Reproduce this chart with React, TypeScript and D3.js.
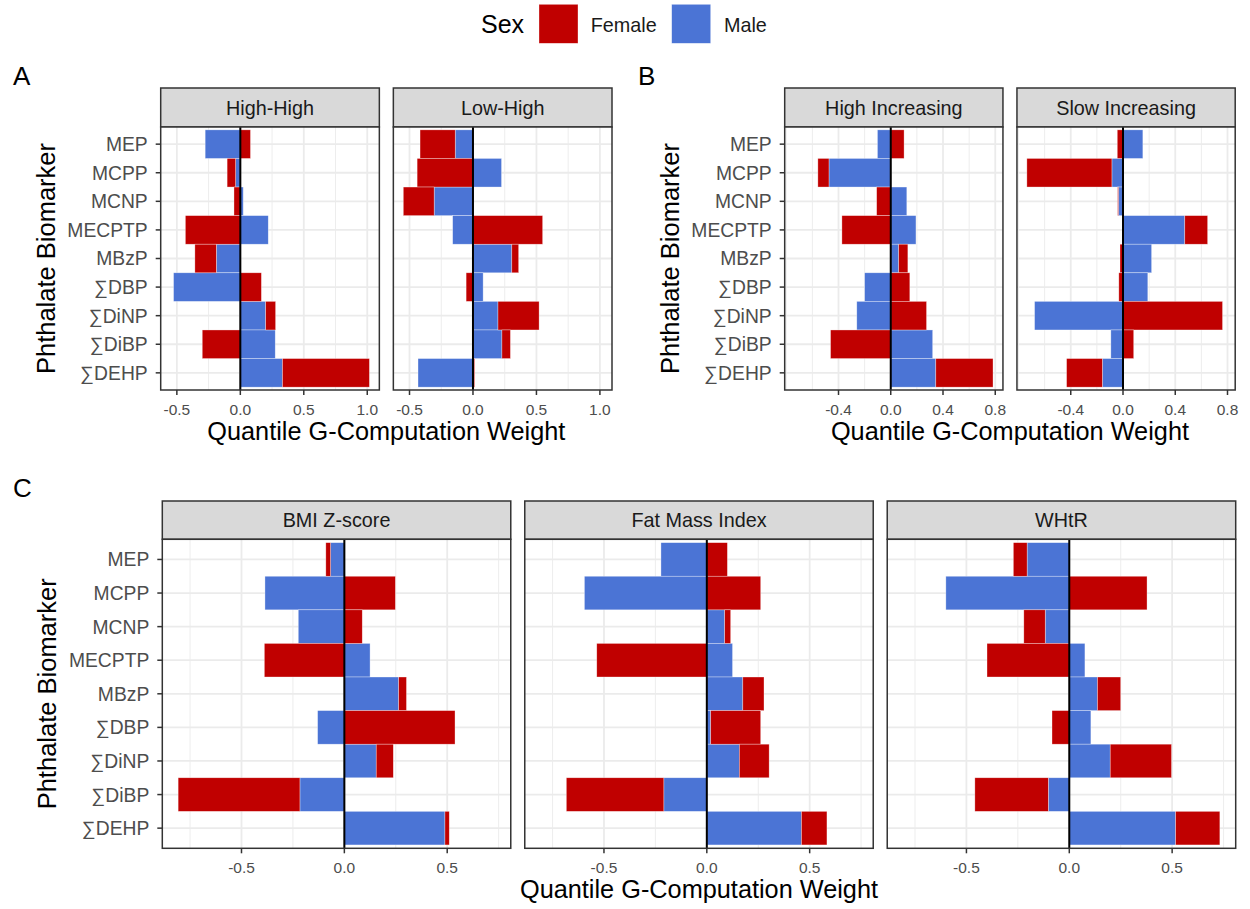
import React from "react";
import * as d3 from "d3";

// Biomarkers, top to bottom
const biomarkers = ["MEP", "MCPP", "MCNP", "MECPTP", "MBzP", "∑DBP", "∑DiNP", "∑DiBP", "∑DEHP"];
const sexes = ["Female", "Male"];
const sexColors = ["#C00000", "#4B74D5"];

// A: BMI trajectory groups
const highHighFemale = [0.08, -0.067, -0.05, -0.433, -0.169, 0.166, 0.078, -0.3, 0.685];
const highHighMale = [-0.277, -0.037, 0.023, 0.22, -0.189, -0.526, 0.2, 0.275, 0.332];
const lowHighFemale = [-0.277, -0.44, -0.243, 0.549, 0.054, -0.054, 0.324, 0.067, 0.013];
const lowHighMale = [-0.14, 0.225, -0.306, -0.16, 0.306, 0.08, 0.197, 0.228, -0.433];

// B: growth trajectory groups
const highIncFemale = [0.102, -0.085, -0.108, -0.374, 0.07, 0.146, 0.274, -0.461, 0.438];
const highIncMale = [-0.102, -0.473, 0.123, 0.193, 0.061, -0.2, -0.26, 0.321, 0.345];
const slowIncFemale = [-0.044, -0.651, -0.006, 0.175, -0.023, -0.032, 0.762, 0.082, -0.274];
const slowIncMale = [0.152, -0.085, -0.035, 0.473, 0.219, 0.19, -0.677, -0.093, -0.158];

// C: adiposity outcomes
const bmiFemale = [-0.023, 0.248, 0.087, -0.389, 0.038, 0.538, 0.083, -0.592, 0.021];
const bmiMale = [-0.067, -0.386, -0.224, 0.125, 0.264, -0.13, 0.155, -0.216, 0.489];
const fmiFemale = [0.1, 0.262, 0.029, -0.535, 0.103, 0.243, 0.145, -0.474, 0.124];
const fmiMale = [-0.223, -0.595, 0.087, 0.125, 0.175, 0.019, 0.158, -0.209, 0.46];
const whtrFemale = [-0.067, 0.378, -0.104, -0.4, 0.113, -0.084, 0.298, -0.357, 0.215];
const whtrMale = [-0.205, -0.6, -0.117, 0.076, 0.137, 0.105, 0.199, -0.102, 0.517];

// Axis ticks
const ticksA = [-0.5, 0, 0.5, 1.0];
const minorA = [-0.75, -0.25, 0.25, 0.75];
const ticksB = [-0.4, 0, 0.4, 0.8];
const minorB = [-0.8, -0.6, -0.2, 0.2, 0.6];
const ticksC = [-0.5, 0, 0.5];
const minorC = [-0.75, -0.25, 0.25, 0.75];

const FONT = "'Liberation Sans', Arial, Helvetica, sans-serif";
const xTitle = "Quantile G-Computation Weight";
const yTitle = "Phthalate Biomarker";

type Facet = { title: string; female: number[]; male: number[] };
type Layout = {
  left: number;
  right: number;
  gap: number;
  stripTop: number;
  stripBottom: number;
  panelBottom: number;
  letter: string;
  letterX: number;
  letterY: number;
};

function FacetGroup({
  facets,
  ticks,
  minor,
  layout,
}: {
  facets: Facet[];
  ticks: number[];
  minor: number[];
  layout: Layout;
}) {
  const n = facets.length;
  const panelW = (layout.right - layout.left - layout.gap * (n - 1)) / n;
  const panelTop = layout.stripBottom;

  // stack Male next to zero, Female outside, negatives and positives separately
  const stacks = facets.map((f) => {
    const rows = biomarkers.map((b, i) => ({ biomarker: b, Female: f.female[i], Male: f.male[i] }));
    return d3
      .stack<any>()
      .keys(["Male", "Female"])
      .offset(d3.stackOffsetDiverging)(rows);
  });
  const lo = d3.min(stacks.flat(2).map((d: any) => d[0])) as number;
  const hi = d3.max(stacks.flat(2).map((d: any) => d[1])) as number;
  const pad = (hi - lo) * 0.05;

  const y = d3
    .scalePoint<string>()
    .domain(biomarkers)
    .range([panelTop, layout.panelBottom])
    .padding(0.6);
  const step = y.step();
  const colorOf = d3.scaleOrdinal<string, string>().domain(sexes).range(sexColors);

  const midY = (panelTop + layout.panelBottom) / 2;

  return (
    <g>
      <text x={layout.letterX} y={layout.letterY} fontSize={26} fill="#000">
        {layout.letter}
      </text>
      <text
        transform={`translate(${layout.left - 106},${midY}) rotate(-90)`}
        textAnchor="middle"
        fontSize={25.5}
        fill="#000"
      >
        {yTitle}
      </text>
      {biomarkers.map((b) => (
        <g key={b}>
          <text
            x={layout.left - 13}
            y={y(b)!}
            dy="0.36em"
            textAnchor="end"
            fontSize={19.3}
            fill="#4D4D4D"
          >
            {b}
          </text>
          <line
            x1={layout.left - 5}
            x2={layout.left}
            y1={y(b)!}
            y2={y(b)!}
            stroke="#333333"
            strokeWidth={1.5}
          />
        </g>
      ))}
      {facets.map((f, fi) => {
        const x0 = layout.left + fi * (panelW + layout.gap);
        const x = d3
          .scaleLinear()
          .domain([lo - pad, hi + pad])
          .range([x0, x0 + panelW]);
        return (
          <g key={f.title}>
            {/* strip */}
            <rect
              x={x0}
              y={layout.stripTop}
              width={panelW}
              height={layout.stripBottom - layout.stripTop}
              fill="#D9D9D9"
              stroke="#333333"
              strokeWidth={1.5}
            />
            <text
              x={x0 + panelW / 2}
              y={(layout.stripTop + layout.stripBottom) / 2 + 7}
              textAnchor="middle"
              fontSize={19.8}
              fill="#1A1A1A"
            >
              {f.title}
            </text>
            {/* panel */}
            <rect x={x0} y={panelTop} width={panelW} height={layout.panelBottom - panelTop} fill="#fff" />
            {minor
              .filter((t) => x(t) > x0 && x(t) < x0 + panelW)
              .map((t) => (
                <line
                  key={"m" + t}
                  x1={x(t)}
                  x2={x(t)}
                  y1={panelTop}
                  y2={layout.panelBottom}
                  stroke="#EBEBEB"
                  strokeWidth={0.9}
                />
              ))}
            {ticks.map((t) => (
              <line
                key={"g" + t}
                x1={x(t)}
                x2={x(t)}
                y1={panelTop}
                y2={layout.panelBottom}
                stroke="#EBEBEB"
                strokeWidth={1.8}
              />
            ))}
            {biomarkers.map((b) => (
              <line
                key={"h" + b}
                x1={x0}
                x2={x0 + panelW}
                y1={y(b)!}
                y2={y(b)!}
                stroke="#EBEBEB"
                strokeWidth={1.8}
              />
            ))}
            {/* bars */}
            {stacks[fi].map((series) =>
              series.map((d: any) => (
                <rect
                  key={series.key + d.data.biomarker}
                  x={x(d[0])}
                  y={y(d.data.biomarker)! - step / 2}
                  width={Math.max(0, x(d[1]) - x(d[0]))}
                  height={step}
                  fill={colorOf(series.key)}
                  stroke="#ffffff"
                  strokeOpacity={0.55}
                  strokeWidth={0.6}
                />
              ))
            )}
            {/* zero reference */}
            <line x1={x(0)} x2={x(0)} y1={panelTop} y2={layout.panelBottom} stroke="#000" strokeWidth={2} />
            <rect
              x={x0}
              y={panelTop}
              width={panelW}
              height={layout.panelBottom - panelTop}
              fill="none"
              stroke="#333333"
              strokeWidth={1.5}
            />
            {/* x axis */}
            {ticks.map((t) => (
              <g key={"t" + t}>
                <line
                  x1={x(t)}
                  x2={x(t)}
                  y1={layout.panelBottom}
                  y2={layout.panelBottom + 5}
                  stroke="#333333"
                  strokeWidth={1.5}
                />
                <text
                  x={x(t)}
                  y={layout.panelBottom + 24.5}
                  textAnchor="middle"
                  fontSize={15.5}
                  fill="#4D4D4D"
                >
                  {t.toFixed(1)}
                </text>
              </g>
            ))}
          </g>
        );
      })}
      <text
        x={(layout.left + layout.right) / 2}
        y={layout.panelBottom + 50}
        textAnchor="middle"
        fontSize={25.3}
        fill="#000"
      >
        {xTitle}
      </text>
    </g>
  );
}

const facetsA: Facet[] = [
  { title: "High-High", female: highHighFemale, male: highHighMale },
  { title: "Low-High", female: lowHighFemale, male: lowHighMale },
];
const facetsB: Facet[] = [
  { title: "High Increasing", female: highIncFemale, male: highIncMale },
  { title: "Slow Increasing", female: slowIncFemale, male: slowIncMale },
];
const facetsC: Facet[] = [
  { title: "BMI Z-score", female: bmiFemale, male: bmiMale },
  { title: "Fat Mass Index", female: fmiFemale, male: fmiMale },
  { title: "WHtR", female: whtrFemale, male: whtrMale },
];

const layoutA: Layout = {
  left: 160.7, right: 612, gap: 14, stripTop: 88, stripBottom: 127, panelBottom: 390,
  letter: "A", letterX: 13, letterY: 85,
};
const layoutB: Layout = {
  left: 784.7, right: 1235.2, gap: 14, stripTop: 88, stripBottom: 127, panelBottom: 390,
  letter: "B", letterX: 638, letterY: 85,
};
const layoutC: Layout = {
  left: 162.3, right: 1235.7, gap: 14, stripTop: 501, stripBottom: 539.3, panelBottom: 848.3,
  letter: "C", letterX: 13, letterY: 497,
};

function Legend() {
  const keyX = [539, 671.7];
  const labelX = [590.7, 724];
  return (
    <g>
      <text x={481} y={33.3} fontSize={25} fill="#000">
        Sex
      </text>
      {sexes.map((s, i) => (
        <g key={s}>
          <rect x={keyX[i]} y={4.3} width={39} height={39} fill={sexColors[i]} stroke="#fff" strokeOpacity={0.55} strokeWidth={0.6} />
          <text x={labelX[i]} y={31.7} fontSize={19.8} fill="#1A1A1A">
            {s}
          </text>
        </g>
      ))}
    </g>
  );
}

export default function App() {
  return (
    <svg
      width={1250}
      height={909}
      style={{ position: "absolute", left: 0, top: 0, background: "#fff", fontFamily: FONT }}
    >
      <rect width={1250} height={909} fill="#fff" />
      <Legend />
      <FacetGroup facets={facetsA} ticks={ticksA} minor={minorA} layout={layoutA} />
      <FacetGroup facets={facetsB} ticks={ticksB} minor={minorB} layout={layoutB} />
      <FacetGroup facets={facetsC} ticks={ticksC} minor={minorC} layout={layoutC} />
    </svg>
  );
}
